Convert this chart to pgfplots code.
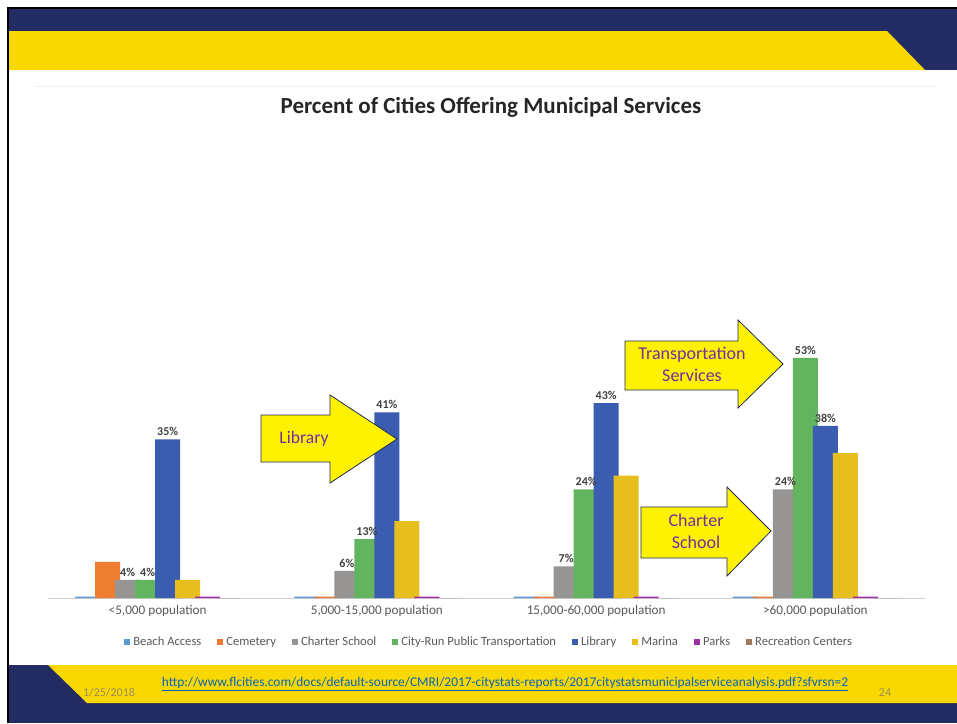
\documentclass[border=0pt]{standalone}
\usepackage{pgfplots}
\pgfplotsset{compat=1.18}
\usepackage{fontspec}
\setmainfont{Carlito}
\definecolor{navy}{HTML}{232B63}
\definecolor{slideyellow}{HTML}{F8D800}
\definecolor{cBeach}{HTML}{5B9BD5}
\definecolor{cCem}{HTML}{ED7D31}
\definecolor{cChart}{HTML}{979593}
\definecolor{cTrans}{HTML}{62B45E}
\definecolor{cLib}{HTML}{3B5DB0}
\definecolor{cMar}{HTML}{E6BE1E}
\definecolor{cParks}{HTML}{A12FA8}
\definecolor{cRec}{HTML}{9E7B5A}
\definecolor{txtgray}{HTML}{595959}
\definecolor{lblgray}{HTML}{404040}
\definecolor{calloutedge}{HTML}{1F2A55}
\definecolor{callouttext}{HTML}{7030A0}
\definecolor{linkblue}{HTML}{0563C1}
\definecolor{foottext}{HTML}{9A8E5A}
\pgfplotsset{
  sqlegend/.style={legend image code/.code={\fill[##1] (0pt,-3pt) rectangle (6pt,3pt);}},
  pctlabels/.style={nodes near coords={\pgfmathprintnumber{\pgfplotspointmeta}\%},
    every node near coord/.append style={font=\bfseries\fontsize{12}{14}\selectfont, text=lblgray,
      /pgf/number format/assume math mode=true}},
}
\begin{document}
\begin{tikzpicture}[x=1pt,y=1pt]
\path[use as bounding box] (0,0) rectangle (957,-723);
% slide frame
\fill[black] (7,-7) rectangle (957,-723);
\fill[white] (9,-9) rectangle (957,-723);
% header bands
\fill[navy] (9,-9) rectangle (957,-70);
\fill[slideyellow] (9,-31) -- (887,-31) -- (925,-70) -- (9,-70) -- cycle;
% footer bands
\fill[navy] (9,-665) rectangle (957,-723);
\fill[slideyellow] (48,-665) -- (957,-665) -- (957,-703) -- (87,-703) -- cycle;
% chart area top edge
\draw[gray!12] (35,-86) -- (937,-86);
\node[font=\bfseries\fontsize{23}{27}\selectfont, text=black!85] at (491,-107) {Percent of Cities Offering Municipal Services};

\begin{axis}[
  at={(48pt,-598pt)}, anchor=south west,
  scale only axis, width=877pt, height=453pt,
  xmin=-0.5, xmax=3.5, ymin=0, ymax=100,
  ybar=-5pt, bar width=25pt,
  axis x line*=bottom, axis y line=none,
  x axis line style={gray!40, -},
  ymajorgrids, grid style={gray!12},
  ytick={0,10,...,100}, yticklabels={},
  xtick={0,1,2,3},
  xticklabels={{<5,000 population},{5,000-15,000 population},{15,000-60,000 population},{>60,000 population}},
  xtick style={draw=none},
  ticklabel style={font=\fontsize{13.2}{15}\selectfont, text=txtgray},
  sqlegend,
  legend columns=8,
  legend style={at={(0.503,-0.097)}, anchor=center, draw=none, fill=none,
    font=\fontsize{12.6}{14}\selectfont, text=txtgray,
    /tikz/every odd column/.append style={column sep=1pt},
    /tikz/every even column/.append style={column sep=14pt}},
]
\addplot[fill=cBeach, draw=none] coordinates {(0,0.3) (1,0.3) (2,0.3) (3,0.3)};
\addlegendentry{Beach Access}
\addplot[fill=cCem, draw=none] coordinates {(0,8) (1,0.3) (2,0.3) (3,0.3)};
\addlegendentry{Cemetery}
\addplot[fill=cChart, draw=none, pctlabels] coordinates {(0,4) (1,6) (2,7) (3,24)};
\addlegendentry{Charter School}
\addplot[fill=cTrans, draw=none, pctlabels] coordinates {(0,4) (1,13) (2,24) (3,53)};
\addlegendentry{City-Run Public Transportation}
\addplot[fill=cLib, draw=none, pctlabels] coordinates {(0,35) (1,41) (2,43) (3,38)};
\addlegendentry{Library}
\addplot[fill=cMar, draw=none] coordinates {(0,4) (1,17) (2,27) (3,32)};
\addlegendentry{Marina}
\addplot[fill=cParks, draw=none] coordinates {(0,0.3) (1,0.3) (2,0.3) (3,0.3)};
\addlegendentry{Parks}
\addplot[fill=cRec, draw=none] coordinates {(0,0) (1,0) (2,0) (3,0)};
\addlegendentry{Recreation Centers}
\end{axis}

% callout arrows
\draw[calloutedge, fill=yellow, line width=0.8pt] (261,-415) -- (330,-415) -- (330,-395) -- (397,-439) -- (330,-483) -- (330,-462) -- (261,-462) -- cycle;
\node[text=callouttext, font=\fontsize{17.6}{20}\selectfont] at (304,-439) {Library};
\draw[calloutedge, fill=yellow, line width=0.8pt] (625,-341) -- (738,-341) -- (738,-320) -- (783,-364) -- (738,-408) -- (738,-390) -- (625,-390) -- cycle;
\node[text=callouttext, font=\fontsize{18}{22}\selectfont, align=center] at (692,-364) {Transportation\\Services};
\draw[calloutedge, fill=yellow, line width=0.8pt] (641,-507) -- (727,-507) -- (727,-487) -- (771,-531) -- (727,-576) -- (727,-558) -- (641,-558) -- cycle;
\node[text=callouttext, font=\fontsize{18}{22}\selectfont, align=center] at (696,-531) {Charter\\School};

% footer text
\node[text=foottext, font=\fontsize{12}{14}\selectfont] at (109,-693) {1/25/2018};
\node[text=linkblue, font=\fontsize{13.4}{15}\selectfont] at (505,-684) {\underline{http://www.flcities.com/docs/default-source/CMRI/2017-citystats-reports/2017citystatsmunicipalserviceanalysis.pdf?sfvrsn=2}};
\node[text=foottext, font=\fontsize{12}{14}\selectfont] at (885,-693) {24};
\end{tikzpicture}
\end{document}
